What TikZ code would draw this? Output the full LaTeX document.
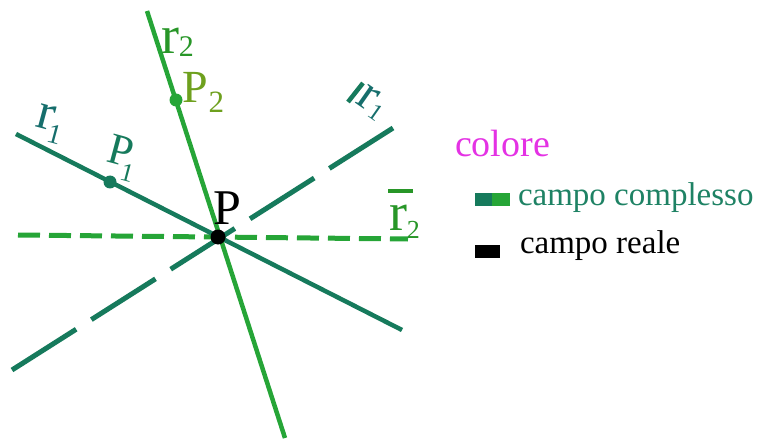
\documentclass[tikz,border=0pt]{standalone}
\usepackage{fontspec}
\setmainfont{Liberation Serif}
\definecolor{tealline}{RGB}{22,122,92}
\definecolor{brightgreen}{RGB}{38,165,55}
\definecolor{labgreen}{RGB}{40,150,40}
\definecolor{olivegreen}{RGB}{110,160,30}
\definecolor{labteal}{RGB}{22,110,108}
\definecolor{magentacol}{RGB}{228,50,228}
\definecolor{textteal}{RGB}{30,130,100}
\newcommand{\fsz}[1]{\fontsize{#1}{#1}\selectfont}
\newcommand{\mysub}[3]{\raisebox{-#3pt}{\fsz{#1}#2}}
\tikzset{
  lbl/.style={inner sep=0pt, outer sep=0pt, anchor=base west},
  tline/.style={draw=tealline, line width=4.5pt},
  gline/.style={draw=brightgreen, line width=4.5pt},
  tdash/.style={draw=tealline, line width=5pt, dash pattern=on 76pt off 18pt},
  gdash/.style={draw=brightgreen, line width=5pt, dash pattern=on 22pt off 9pt},
  dotmark/.style={circle, inner sep=0pt, minimum size=#1}
}
\begin{document}
\begin{tikzpicture}[x=1pt,y=-1pt]
\useasboundingbox (0,0) rectangle (758,441);
% endpoints
\coordinate (r2a) at (147,11);
\coordinate (r2b) at (285,438);
\coordinate (r1a) at (16,134);
\coordinate (r1b) at (402,330);
\coordinate (rb1a) at (12,370);
\coordinate (rb1b) at (393,128);
\coordinate (rb2a) at (18,235);
\coordinate (rb2b) at (408,239);
% lines
\draw[gdash] (rb2a) -- (rb2b);
\draw[tdash] (rb1a) -- (rb1b);
\draw[tline] (r1a) -- (r1b);
\draw[gline] (r2a) -- (r2b);
% points
\node[dotmark=15pt, fill=black] (P) at (218,237) {};
\node[dotmark=13pt, fill=tealline] (P1) at (110,182) {};
\node[dotmark=13pt, fill=brightgreen] (P2) at (176,100) {};
% labels
\node[lbl, text=labgreen] (lr2) at (161,54) {\fsz{54}r\mysub{30}{2}{3}};
\node[lbl, text=olivegreen] (lP2) at (182,103) {\fsz{46}P\kern1pt\mysub{31}{2}{10}};
\node[text=labteal, inner sep=0pt, rotate=-15] (lr1) at (50,124) {\fsz{52}r\kern-3pt\mysub{28}{1}{12}};
\node[text=tealline, inner sep=0pt, rotate=-15] (lP1) at (122,158) {\fsz{44}P\kern-7pt\mysub{26}{1}{14}};
\node[lbl, text=black] (lP) at (213,224) {\fsz{50}P};
\node[text=labteal, inner sep=0pt, rotate=-35] (lrb1) at (372,103) {\fsz{50}r\mysub{24}{1}{4}};
\draw[draw=tealline, line width=4.5pt] (348,102) -- (363,83);
\node[lbl, text=labgreen] (lrb2) at (389,230) {\fsz{54}r\mysub{26}{2}{8}};
\draw[draw=labgreen, line width=4.5pt] (388,191) -- (413,191);
% legend
\node[lbl, text=magentacol] (col) at (455,157) {\fsz{38}colore};
\fill[tealline] (475,193) rectangle (492,206);
\fill[brightgreen] (492,193) rectangle (510,206);
\node[lbl, text=textteal] (cc) at (518,205) {\fsz{33}campo complesso};
\fill[black] (475,245) rectangle (500,258);
\node[lbl, text=black] (cr) at (520,253) {\fsz{33}campo reale};
\end{tikzpicture}
\end{document}
